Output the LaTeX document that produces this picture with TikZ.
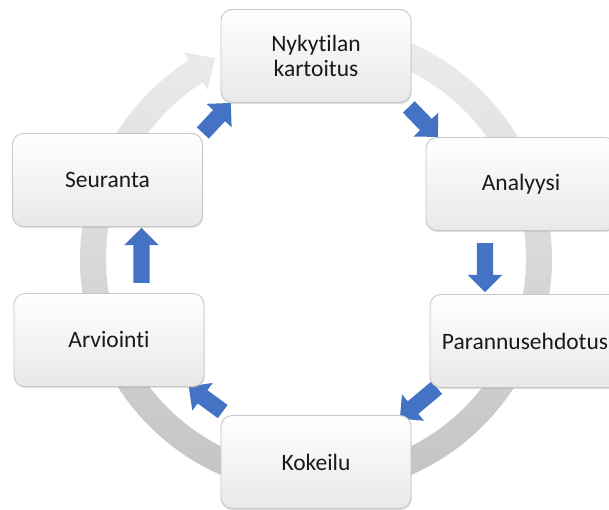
\documentclass[tikz,border=0pt]{standalone}
\usepackage{fontspec}
\setmainfont{Carlito}[Ligatures={NoCommon}]
\usetikzlibrary{calc,shapes.arrows,shadows}
\definecolor{arrblue}{HTML}{4472C4}
\newcommand\blkarrow[3]{\path let \p1=($(#3)-(#2)$), \n1={veclen(\x1,\y1)}, \n2={atan2(\y1,\x1)} in node[blockarr, minimum height=\n1, rotate=\n2] (#1) at ($(#2)!0.5!(#3)$) {};}
\begin{document}
\begin{tikzpicture}[x=1pt,y=1pt,
  stepbox/.style={draw=black!22, line width=0.9pt, rounded corners=11pt,
    minimum width=190pt, minimum height=93pt,
    top color=white, middle color=white, bottom color=black!9,
    align=center, font=\fontsize{23.5}{24.5}\selectfont, text=black!90,
    drop shadow={shadow xshift=0.6pt, shadow yshift=-1.6pt, opacity=0.35, fill=black!35}},
  blockarr/.style={single arrow, fill=arrblue, draw=none, inner xsep=0pt, inner ysep=8pt,
    single arrow head extend=9pt, single arrow tip angle=90}]
\useasboundingbox (0,0) rectangle (609,510);
% ring
\coordinate (C) at (316,251);
\coordinate (tipR) at (215,452);
\shade[top color=black!7, bottom color=black!24]
  ($(C)+(85:236)$) arc[start angle=85, end angle=-237.4, radius=236]
  -- ($(C)+(-237.4:245)$) -- (tipR) -- ($(C)+(-237.4:201)$) -- ($(C)+(-237.4:210)$)
  arc[start angle=-237.4, end angle=85, radius=210] -- cycle;
% arrow coordinates
\coordinate (a1s) at (406,406); \coordinate (a1e) at (435,376);
\coordinate (a2s) at (485,271); \coordinate (a2e) at (485,222);
\coordinate (a3s) at (440,125); \coordinate (a3e) at (403,94);
\coordinate (a4s) at (226,96);  \coordinate (a4e) at (192,121);
\coordinate (a5s) at (141.5,223); \coordinate (a5e) at (141.5,278);
\coordinate (a6s) at (200,374); \coordinate (a6e) at (228,404);
\blkarrow{b1}{a1s}{a1e}
\blkarrow{b2}{a2s}{a2e}
\blkarrow{b3}{a3s}{a3e}
\blkarrow{b4}{a4s}{a4e}
\blkarrow{b5}{a5s}{a5e}
\blkarrow{b6}{a6s}{a6e}
% boxes
\node[stepbox] (n) at (316,454) {Nykytilan\\kartoitus};
\node[stepbox] (a) at (521,326) {Analyysi};
\node[stepbox] (p) at (525,169) {Parannusehdotus};
\node[stepbox] (k) at (316,48) {Kokeilu};
\node[stepbox] (r) at (109,170) {Arviointi};
\node[stepbox] (s) at (107.5,330) {Seuranta};
\end{tikzpicture}
\end{document}
